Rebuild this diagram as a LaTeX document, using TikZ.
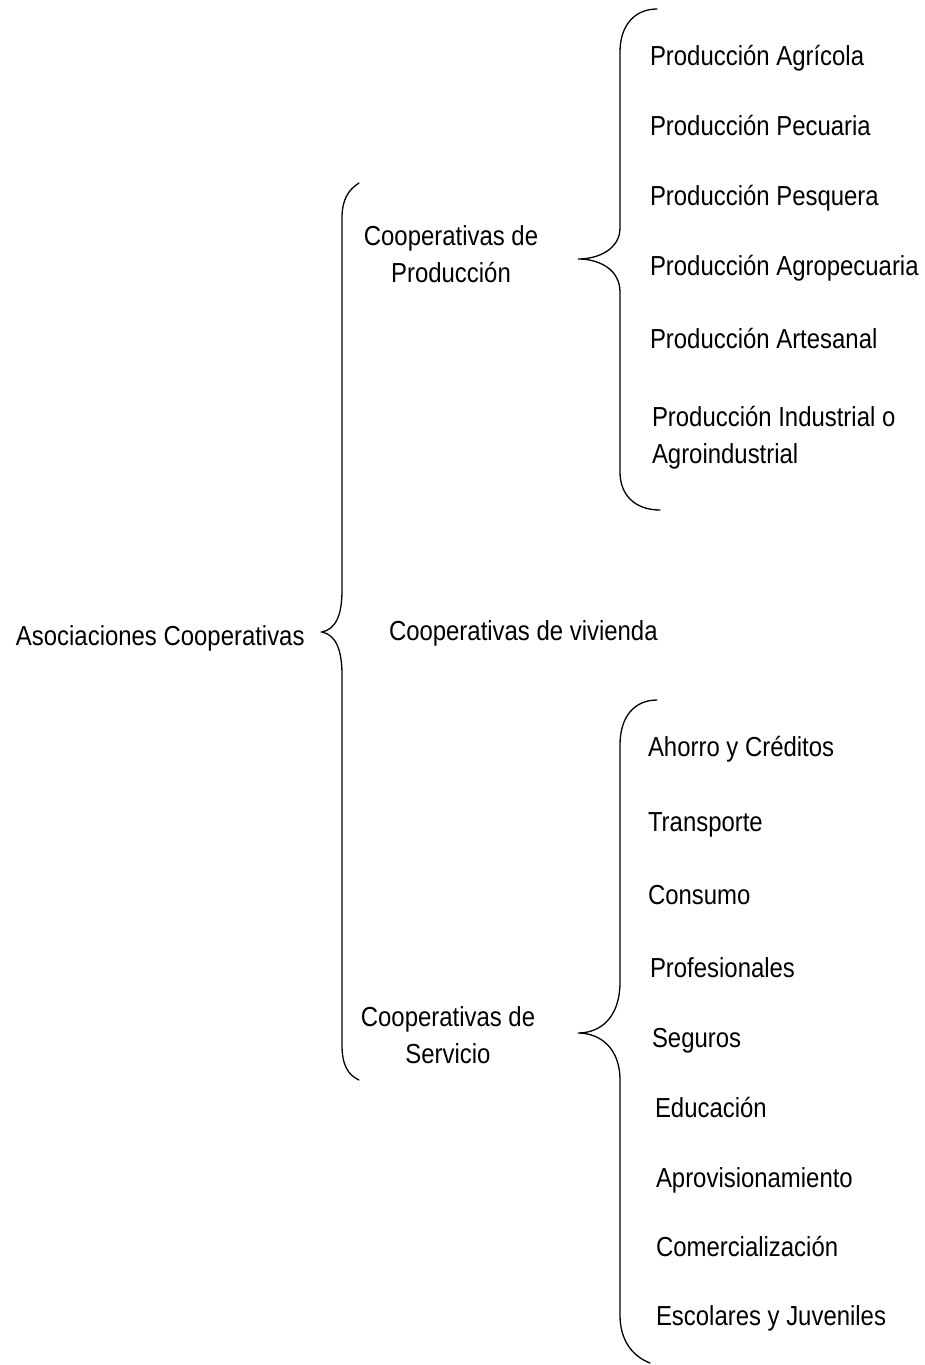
\documentclass[tikz,border=0pt]{standalone}
\usepackage{fontspec}
\setmainfont{Liberation Sans}[FakeStretch=0.87]
\begin{document}
\begin{tikzpicture}[x=1pt,y=-1pt,
  lbl/.style={inner sep=0pt,outer sep=0pt,font=\fontsize{27.5}{37}\selectfont},
  item/.style={lbl,anchor=base west},
  brace/.style={draw=black,line width=1.3pt,line cap=round}]
\useasboundingbox (0,0) rectangle (925,1365);
% texts
\node[item] (root) at (16,645) {Asociaciones Cooperativas};
\node[lbl,align=center,anchor=base] (prod) at (451,282) {Cooperativas de\\Producción};
\node[item] (viv) at (389,640) {Cooperativas de vivienda};
\node[lbl,align=center,anchor=base] (serv) at (448,1063) {Cooperativas de\\Servicio};
\node[item] (p1) at (650,65) {Producción Agrícola};
\node[item] (p2) at (650,135) {Producción Pecuaria};
\node[item] (p3) at (650,205) {Producción Pesquera};
\node[item] (p4) at (650,275) {Producción Agropecuaria};
\node[item] (p5) at (650,348) {Producción Artesanal};
\node[lbl,align=left,anchor=base west] (p6) at (652,463) {Producción Industrial o\\Agroindustrial};
\node[item] (s1) at (648,756) {Ahorro y Créditos};
\node[item] (s2) at (648,831) {Transporte};
\node[item] (s3) at (648,904) {Consumo};
\node[item] (s4) at (650,977) {Profesionales};
\node[item] (s5) at (652,1047) {Seguros};
\node[item] (s6) at (655,1117) {Educación};
\node[item] (s7) at (656,1187) {Aprovisionamiento};
\node[item] (s8) at (656,1256) {Comercialización};
\node[item] (s9) at (656,1325) {Escolares y Juveniles};
% big brace
\draw[brace] (359,183) .. controls (348,190) and (342,200) .. (342,218)
  -- (342,590) .. controls (342,615) and (336,629) .. (322,632)
  .. controls (336,635) and (342,650) .. (342,675)
  -- (342,1045) .. controls (342,1065) and (348,1075) .. (359,1080);
% upper right brace
\draw[brace] (657,9) .. controls (635,9) and (620,25) .. (620,52)
  -- (620,228) .. controls (620,248) and (600,259) .. (578,259)
  .. controls (600,259) and (620,270) .. (620,292)
  -- (620,472) .. controls (620,495) and (635,510) .. (660,510);
% lower right brace
\draw[brace] (657,700) .. controls (635,700) and (620,716) .. (620,745)
  -- (620,982) .. controls (620,1018) and (600,1033) .. (578,1033)
  .. controls (600,1033) and (620,1048) .. (620,1080)
  -- (620,1315) .. controls (620,1340) and (632,1356) .. (650,1363);
\end{tikzpicture}
\end{document}
